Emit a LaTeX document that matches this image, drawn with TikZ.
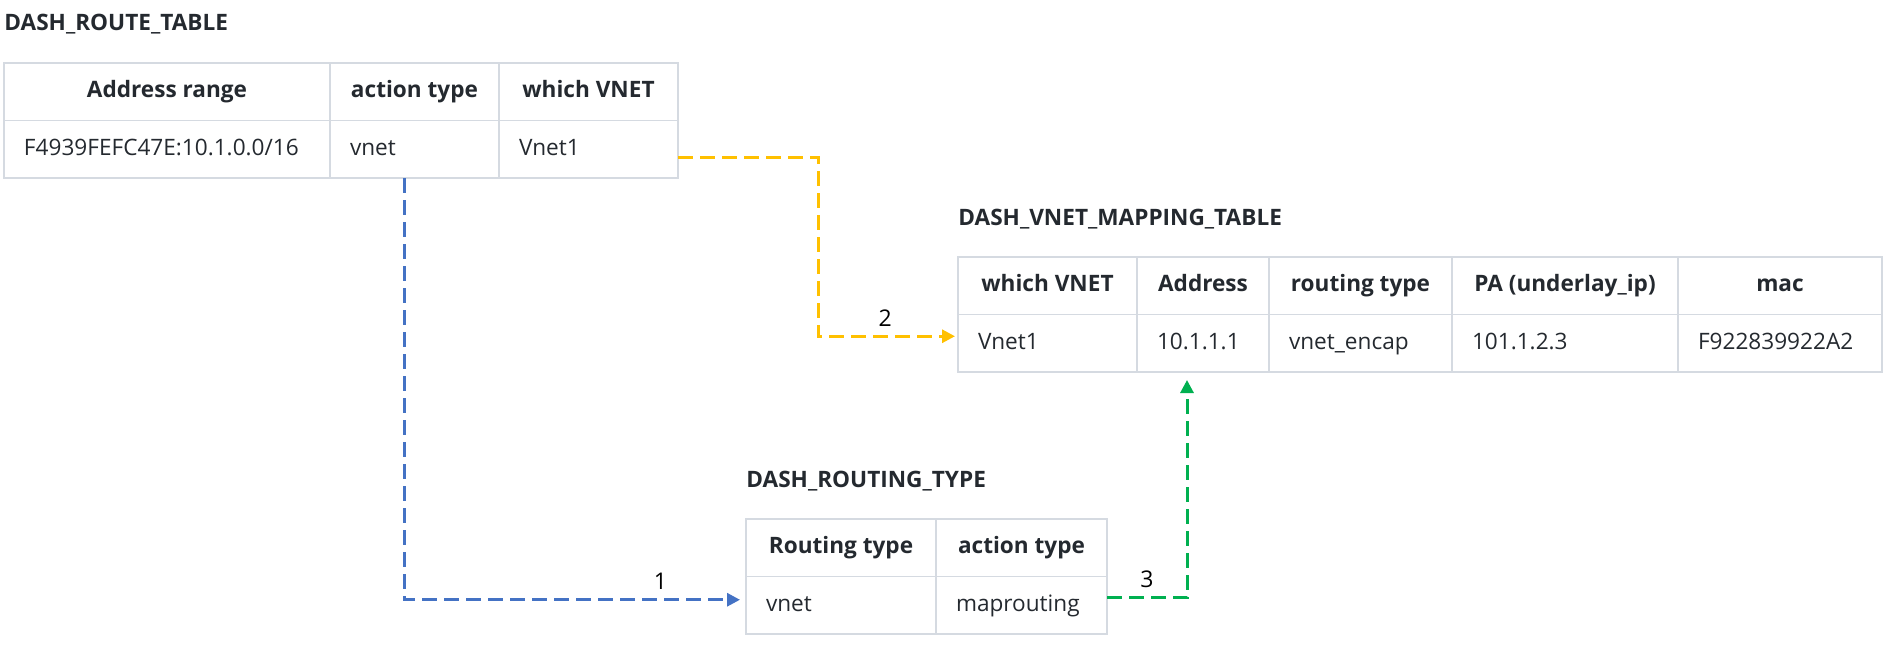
\documentclass[tikz,border=0pt]{standalone}
\usepackage{fontspec}
\setmainfont{Open Sans}
\usepackage{tikz}
\usetikzlibrary{positioning,arrows.meta}
\definecolor{gridgray}{HTML}{D5DAE1}
\definecolor{inkgray}{HTML}{24292F}
\definecolor{linkblue}{HTML}{4472C4}
\definecolor{linkyellow}{HTML}{FFC000}
\definecolor{linkgreen}{HTML}{00B050}

\begin{document}
\begin{tikzpicture}[x=0.5pt, y=-0.5pt, node distance=0pt,
                    cell/.style={draw=gridgray, line width=0.8pt, outer sep=0pt, inner xsep=10pt, inner ysep=0pt,
                                 minimum height=28.75pt, text height=8.4pt, text depth=2.6pt,
                                 text=inkgray, font=\fontsize{11.3}{13}\selectfont},
                    head/.style={cell, minimum width=#1, font=\fontsize{11.3}{13}\selectfont\bfseries},
                    data/.style={cell, text width=#1, align=left},
                    title node/.style={anchor=base west, inner sep=0pt, text=inkgray, font=\fontsize{11.3}{13}\selectfont\bfseries},
                    link/.style={dash pattern=on 7.5pt off 3.5pt, line width=1.5pt, -{Triangle[length=6.5pt,width=6.5pt]}},
                    num label/.style={above, yshift=1pt, text=black, font=\fontsize{11.5}{13}\selectfont}]

  \useasboundingbox (0,0) rectangle (1890,653);

  % DASH_ROUTE_TABLE
  \node[head=163pt, anchor=north west] (h1a) at (4,63) {Address range};
  \node[head=84.5pt] (h1b) [right=of h1a] {action type};
  \node[head=89.5pt] (h1c) [right=of h1b] {which VNET};
  \node[data=143pt] (d1a) [below=of h1a] {F4939FEFC47E:10.1.0.0/16};
  \node[data=64.5pt] (d1b) [below=of h1b] {vnet};
  \node[data=69.5pt] (d1c) [below=of h1c] {Vnet1};
  \node[title node] (t1) at ([yshift=16pt]h1a.north west) {DASH\_ROUTE\_TABLE};

  % DASH_VNET_MAPPING_TABLE
  \node[head=89.5pt, anchor=north west] (h2a) at (958,257) {which VNET};
  \node[head=66pt] (h2b) [right=of h2a] {Address};
  \node[head=91.5pt] (h2c) [right=of h2b] {routing type};
  \node[head=113pt] (h2d) [right=of h2c] {PA (underlay\_ip)};
  \node[head=102pt] (h2e) [right=of h2d] {mac};
  \node[data=69.5pt] (d2a) [below=of h2a] {Vnet1};
  \node[data=46pt] (d2b) [below=of h2b] {10.1.1.1};
  \node[data=71.5pt] (d2c) [below=of h2c] {vnet\_encap};
  \node[data=93pt] (d2d) [below=of h2d] {101.1.2.3};
  \node[data=82pt] (d2e) [below=of h2e] {F922839922A2};
  \node[title node] (t2) at ([yshift=16pt]h2a.north west) {DASH\_VNET\_MAPPING\_TABLE};

  % DASH_ROUTING_TYPE
  \node[head=95pt, anchor=north west] (h3a) at (746,519) {Routing type};
  \node[head=85.5pt] (h3b) [right=of h3a] {action type};
  \node[data=75pt] (d3a) [below=of h3a] {vnet};
  \node[data=65.5pt] (d3b) [below=of h3b] {maprouting};
  \node[title node] (t3) at ([yshift=16pt]h3a.north west) {DASH\_ROUTING\_TYPE};

  \draw[link, linkblue, shorten >=3pt]
    ([xshift=-5.25pt]d1b.south) |- node[num label, pos=0.875] {1} ([yshift=2.75pt]d3a.west);
  \draw[link, linkyellow, shorten >=1.5pt]
    ([yshift=-4pt]d1c.east) -- ++(140,0) |- node[num label, pos=0.74] {2} ([yshift=3.5pt]d2a.west);
  \draw[link, linkgreen, shorten >=4pt]
    ([yshift=3.75pt]d3b.east) -| node[num label, pos=0.25] {3} ([xshift=-8pt]d2b.south);

\end{tikzpicture}
\end{document}
